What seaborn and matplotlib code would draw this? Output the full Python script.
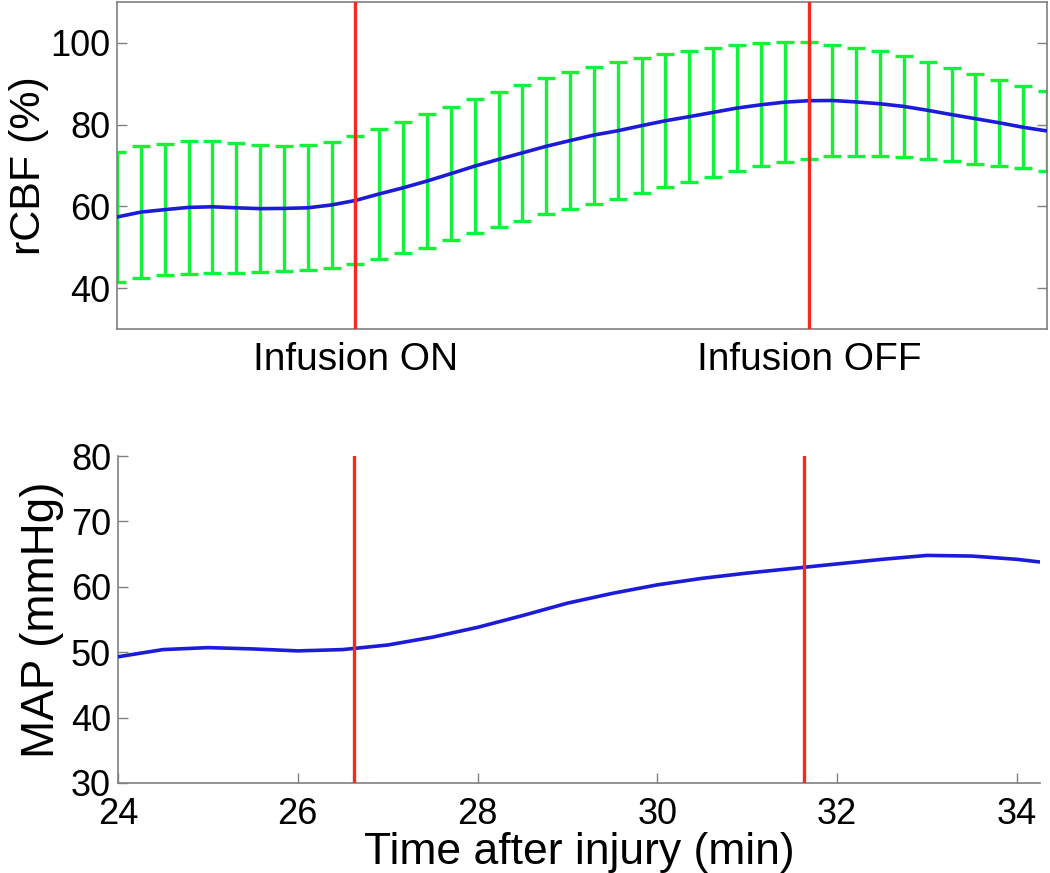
import matplotlib
matplotlib.use("Agg")
import matplotlib.pyplot as plt
import pandas as pd
import seaborn as sns

# ---------------- data ----------------
time_cbf = [24.000, 24.263, 24.526, 24.789, 25.052, 25.315, 25.578, 25.841, 26.104, 26.367,
            26.630, 26.893, 27.156, 27.419, 27.682, 27.945, 28.208, 28.471, 28.734, 28.997,
            29.259, 29.522, 29.785, 30.048, 30.311, 30.574, 30.837, 31.100, 31.363, 31.626,
            31.889, 32.152, 32.415, 32.678, 32.941, 33.204, 33.467, 33.730, 33.993, 34.256]
rcbf_mean = [57.4, 58.6, 59.2, 59.75, 59.9, 59.65, 59.45, 59.5, 59.65, 60.35,
             61.45, 63.05, 64.55, 66.2, 68.0, 69.85, 71.5, 73.1, 74.7, 76.1,
             77.45, 78.5, 79.75, 80.95, 81.95, 83.0, 84.05, 84.85, 85.5, 85.85,
             85.9, 85.55, 85.1, 84.45, 83.5, 82.45, 81.45, 80.45, 79.35, 78.45]
rcbf_err = [15.9, 16.1, 16.1, 16.25, 16.1, 15.85, 15.45, 15.3, 15.25, 15.35,
            15.65, 15.85, 16.05, 16.3, 16.3, 16.35, 16.5, 16.6, 16.6, 16.8,
            16.75, 16.7, 16.45, 16.25, 16.05, 15.7, 15.45, 15.05, 14.7, 14.25,
            13.6, 13.25, 12.8, 12.35, 11.9, 11.45, 11.05, 10.45, 10.05, 9.85]

time_map = [24.0, 24.5, 25.0, 25.5, 26.0, 26.5, 27.0, 27.5, 28.0, 28.5, 29.0,
            29.5, 30.0, 30.5, 31.0, 31.5, 32.0, 32.5, 33.0, 33.5, 34.0, 34.25]
map_values = [49.3, 50.4, 50.7, 50.5, 50.2, 50.4, 51.1, 52.3, 53.8, 55.6, 57.5,
              59.0, 60.3, 61.3, 62.1, 62.8, 63.5, 64.2, 64.8, 64.7, 64.2, 63.8]

event_times = [26.63, 31.63]
event_labels = ["Infusion ON", "Infusion OFF"]
cbf_yticks = [40, 60, 80, 100]
map_yticks = [30, 40, 50, 60, 70, 80]
map_xticks = [24, 26, 28, 30, 32, 34]

# ---------------- style ----------------
sns.set_style("white")
plt.rcParams['font.family'] = ['Liberation Sans', 'DejaVu Sans']
plt.rcParams['text.color'] = 'black'
plt.rcParams['axes.labelcolor'] = 'black'
plt.rcParams['xtick.color'] = 'black'
plt.rcParams['ytick.color'] = 'black'

BLUE = "#1c1cd8"
GREEN = "#12f23a"
RED = "#f42a1e"
GRAY = "#808080"

fig = plt.figure(figsize=(10.5, 8.73), dpi=100)
ax1 = fig.add_axes([117 / 1050, 1 - 329 / 873, 930 / 1050, 327 / 873])
ax2 = fig.add_axes([118 / 1050, 1 - 783 / 873, 922 / 1050, 327 / 873])

# ---------------- top panel: rCBF ----------------
df_cbf = pd.DataFrame({"time": time_cbf, "rcbf": rcbf_mean})
ax1.errorbar(df_cbf["time"], df_cbf["rcbf"], yerr=rcbf_err, fmt="none",
             ecolor=GREEN, elinewidth=2.4, capsize=6.5, capthick=2.4, zorder=2)
sns.lineplot(data=df_cbf, x="time", y="rcbf", ax=ax1, color=BLUE,
             linewidth=2.6, zorder=3)
for t in event_times:
    ax1.axvline(t, color=RED, linewidth=2.4, zorder=4)

ax1.set_xlim(24, 34.256)
ax1.set_ylim(30, 110)
ax1.set_yticks(cbf_yticks)
ax1.set_xticks(event_times, event_labels)
ax1.tick_params(axis="x", length=0, labelsize=28, pad=9)
ax1.tick_params(axis="y", direction="in", length=7, width=1, color=GRAY,
                labelcolor="black", labelsize=26, left=True, right=True, pad=5)
ax1.set_xlabel("")
ax1.set_ylabel("rCBF (%)", fontsize=31, labelpad=1)
for s in ax1.spines.values():
    s.set_color(GRAY)
    s.set_linewidth(1.2)
    s.set_visible(True)

# ---------------- bottom panel: MAP ----------------
df_map = pd.DataFrame({"time": time_map, "map": map_values})
sns.lineplot(data=df_map, x="time", y="map", ax=ax2, color=BLUE,
             linewidth=2.6, zorder=3)
for t in event_times:
    ax2.axvline(t, color=RED, linewidth=2.4, zorder=4)

ax2.set_xlim(24, 34.256)
ax2.set_ylim(30, 80)
ax2.set_yticks(map_yticks)
ax2.set_xticks(map_xticks)
ax2.tick_params(axis="y", direction="in", length=7, width=1, color=GRAY,
                labelcolor="black", labelsize=26, left=True, pad=5)
ax2.tick_params(axis="x", direction="in", length=7, width=1, color=GRAY,
                labelcolor="black", labelsize=26, bottom=True, pad=10)
ax2.set_xlabel("Time after injury (min)", fontsize=32, labelpad=0)
ax2.set_ylabel("MAP (mmHg)", fontsize=33, labelpad=5)
for side in ["top", "right"]:
    ax2.spines[side].set_visible(False)
for side in ["left", "bottom"]:
    ax2.spines[side].set_color(GRAY)
    ax2.spines[side].set_linewidth(1.2)

fig.savefig("out.png", dpi=100)
